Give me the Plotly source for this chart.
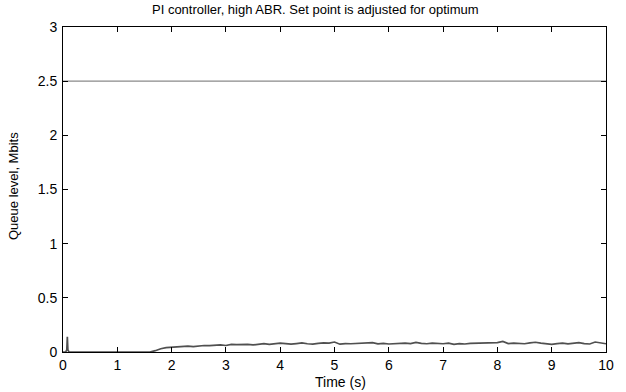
import plotly.graph_objects as go

# Time axis (s) and queue level (Mbits)
time_s = [0.0, 0.05, 0.07, 0.08, 0.09, 0.11, 0.5, 1.0, 1.5, 1.6,
          1.7, 1.8, 1.9, 2.0, 2.1, 2.2, 2.3, 2.4, 2.5, 2.6, 2.7, 2.8, 2.9,
          3.0, 3.1, 3.2, 3.3, 3.4, 3.5, 3.6, 3.7, 3.8, 3.9,
          4.0, 4.1, 4.2, 4.3, 4.4, 4.5, 4.6, 4.7, 4.8, 4.9,
          5.0, 5.1, 5.2, 5.3, 5.4, 5.5, 5.6, 5.7, 5.8, 5.9,
          6.0, 6.1, 6.2, 6.3, 6.4, 6.5, 6.6, 6.7, 6.8, 6.9,
          7.0, 7.1, 7.2, 7.3, 7.4, 7.5, 7.6, 7.7, 7.8, 7.9,
          8.0, 8.1, 8.2, 8.3, 8.4, 8.5, 8.6, 8.7, 8.8, 8.9,
          9.0, 9.1, 9.2, 9.3, 9.4, 9.5, 9.6, 9.7, 9.8, 9.9, 10.0]
queue_mbit = [0.0, 0.0, 0.02, 0.14, 0.02, 0.0, 0.0, 0.0, 0.0, 0.0,
              0.012, 0.03, 0.04, 0.045, 0.05, 0.05, 0.055, 0.05, 0.055, 0.06, 0.058, 0.062, 0.065,
              0.06, 0.07, 0.068, 0.072, 0.07, 0.065, 0.072, 0.078, 0.07, 0.075,
              0.082, 0.078, 0.072, 0.078, 0.084, 0.076, 0.072, 0.08, 0.085, 0.082,
              0.092, 0.072, 0.078, 0.076, 0.08, 0.078, 0.082, 0.086, 0.076, 0.08,
              0.074, 0.078, 0.076, 0.082, 0.078, 0.088, 0.08, 0.076, 0.082, 0.08,
              0.076, 0.082, 0.07, 0.078, 0.074, 0.08, 0.082, 0.078, 0.084, 0.082,
              0.086, 0.098, 0.078, 0.082, 0.08, 0.076, 0.084, 0.09, 0.082, 0.078,
              0.07, 0.078, 0.082, 0.076, 0.08, 0.086, 0.078, 0.074, 0.092, 0.082, 0.076]

# Buffer set point (Mbits)
setpoint_time = [0.0, 10.0]
setpoint_mbit = [2.5, 2.5]

x_ticks = [0, 1, 2, 3, 4, 5, 6, 7, 8, 9, 10]
y_ticks = [0, 0.5, 1, 1.5, 2, 2.5, 3]
y_tick_text = ["0", "0.5", "1", "1.5", "2", "2.5", "3"]

font_family = "Liberation Sans, Arial, sans-serif"
W, H = 626, 392
M_L, M_R, M_T, M_B = 63, 20, 27, 40

fig = go.Figure()
fig.add_trace(go.Scatter(x=setpoint_time, y=setpoint_mbit, mode="lines",
                         line=dict(color="#8a8a8a", width=1.2), showlegend=False))
fig.add_trace(go.Scatter(x=time_s, y=queue_mbit, mode="lines",
                         line=dict(color="#505050", width=1.7), showlegend=False))

axis_common = dict(showline=True, linecolor="black", linewidth=1, mirror="allticks",
                   ticks="inside", ticklen=5, tickcolor="black", tickwidth=1,
                   showgrid=False, zeroline=False,
                   tickfont=dict(family=font_family, size=14, color="black"))

fig.update_layout(
    width=W, height=H,
    margin=dict(l=M_L, r=M_R, t=M_T, b=M_B),
    paper_bgcolor="white", plot_bgcolor="white",
    font=dict(family=font_family, size=14, color="black"),
    xaxis=dict(range=[0, 10], tickvals=x_ticks, ticklabelstandoff=0, **axis_common),
    yaxis=dict(range=[0, 3], tickvals=y_ticks, ticktext=y_tick_text,
               ticklabelstandoff=2, **axis_common),
)

# Title and axis labels, placed in pixel terms relative to the plotting area
plot_w = W - M_L - M_R
plot_h = H - M_T - M_B
fig.add_annotation(text="PI controller, high ABR. Set point is adjusted for optimum",
                   xref="paper", yref="paper",
                   x=(315 - M_L) / plot_w, y=1 + (M_T - 10) / plot_h,
                   xanchor="center", yanchor="middle", showarrow=False,
                   font=dict(family=font_family, size=13, color="black"))
fig.add_annotation(text="Time (s)", xref="paper", yref="paper",
                   x=(340 - M_L) / plot_w, y=-(382 - (H - M_B)) / plot_h,
                   xanchor="center", yanchor="middle", showarrow=False,
                   font=dict(family=font_family, size=14, color="black"))
fig.add_annotation(text="Queue level, Mbits", xref="paper", yref="paper",
                   x=-(M_L - 13) / plot_w, y=(H - M_B - 186) / plot_h,
                   xanchor="center", yanchor="middle", textangle=-90, showarrow=False,
                   font=dict(family=font_family, size=13, color="black"))

fig.write_html("out.html")
